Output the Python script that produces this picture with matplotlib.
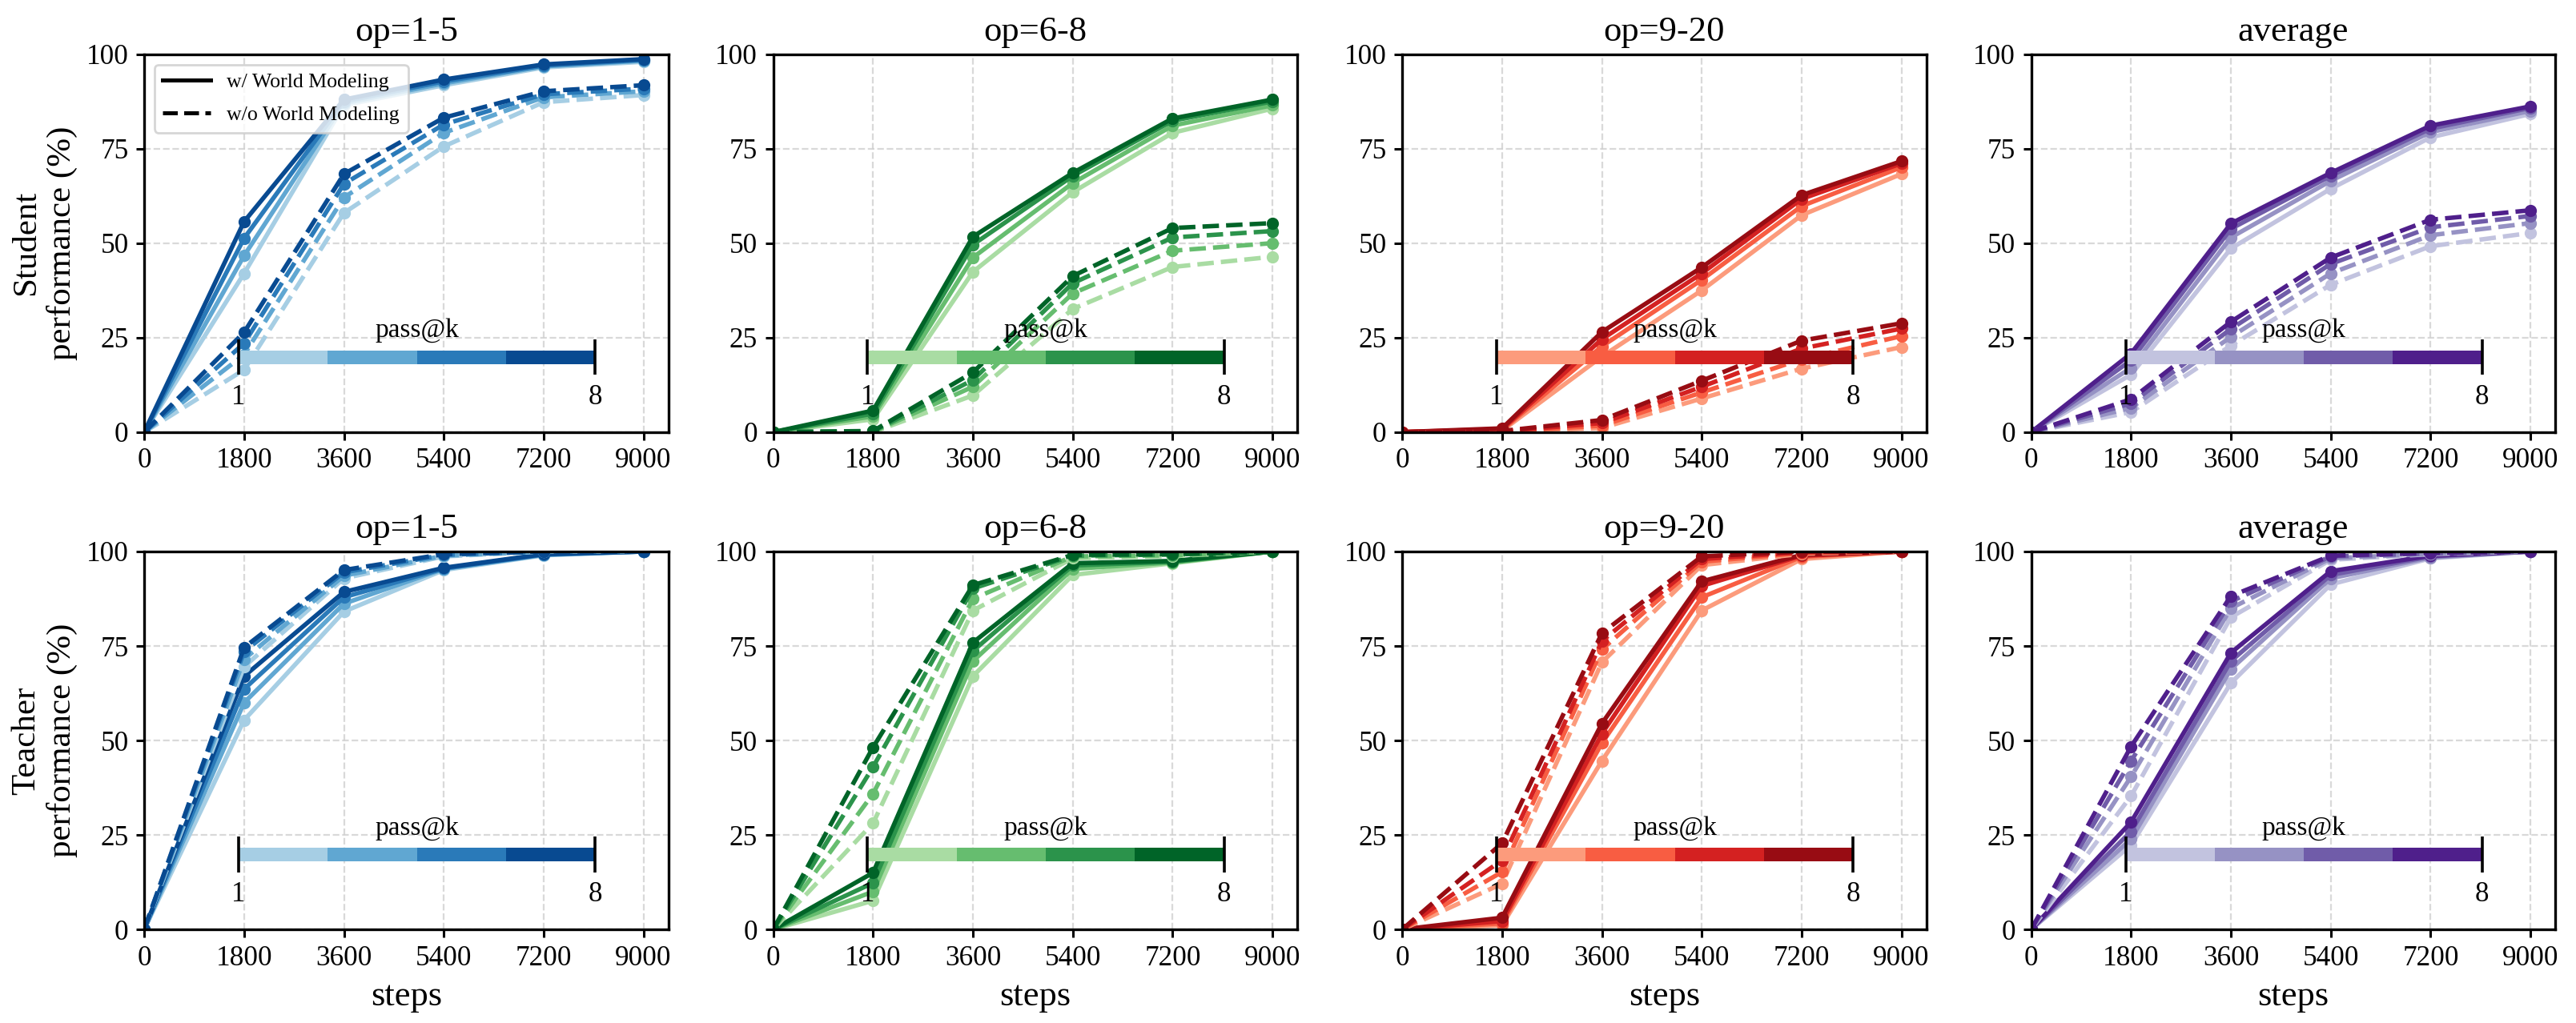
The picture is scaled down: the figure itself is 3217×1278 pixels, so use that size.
"""
pass@k curves of student / teacher, with and without world modeling
"""
import numpy as np
import matplotlib
matplotlib.use("Agg")
import matplotlib.pyplot as plt
from matplotlib.colors import ListedColormap, BoundaryNorm
from matplotlib.cm import ScalarMappable
from matplotlib.lines import Line2D

plt.rcParams['font.family'] = ['Liberation Serif', 'DejaVu Serif']
plt.rcParams['mathtext.fontset'] = 'stix'

# x axis
steps = [0, 1800, 3600, 5400, 7200, 9000]
k_values = [1, 2, 4, 8]
titles = ['op=1-5', 'op=6-8', 'op=9-20', 'average']
row_labels = ['Student\nperformance (%)', 'Teacher\nperformance (%)']
cmaps = ['Blues', 'Greens', 'Reds', 'Purples']

# each list: one row per k (1, 2, 4, 8), values at the 6 steps
# ---- student, w/ world modeling
stu_op1_5_w = [[0, 42.0, 86.5, 91.8, 96.5, 98.0],
               [0, 46.7, 87.0, 92.3, 96.8, 98.3],
               [0, 51.3, 87.5, 92.8, 97.0, 98.5],
               [0, 55.7, 88.0, 93.3, 97.3, 98.7]]
stu_op6_8_w = [[0, 3.4, 42.4, 63.5, 79.2, 85.6],
               [0, 4.2, 46.2, 65.9, 81.1, 86.5],
               [0, 4.9, 49.6, 67.8, 82.4, 87.5],
               [0, 5.7, 51.7, 68.6, 83.0, 88.0]]
stu_op9_20_w = [[0, 0.4, 20.0, 37.5, 57.4, 68.3],
                [0, 0.6, 22.7, 40.3, 59.8, 70.1],
                [0, 0.8, 24.6, 42.0, 61.7, 71.1],
                [0, 1.0, 26.5, 43.6, 62.7, 71.7]]
stu_avg_w = [[0, 15.2, 48.6, 64.4, 78.0, 84.2],
             [0, 17.0, 51.5, 66.5, 79.4, 85.0],
             [0, 19.0, 53.8, 67.8, 80.3, 85.8],
             [0, 20.8, 55.2, 68.6, 81.1, 86.2]]
# ---- student, w/o world modeling
stu_op1_5_wo = [[0, 16.5, 58.0, 75.6, 87.3, 89.2],
                [0, 20.5, 62.1, 79.2, 88.6, 90.2],
                [0, 23.5, 65.7, 81.4, 89.4, 90.9],
                [0, 26.4, 68.3, 83.2, 90.2, 91.8]]
stu_op6_8_wo = [[0, 0.0, 9.7, 32.6, 43.7, 46.4],
                [0, 0.1, 12.0, 36.7, 48.0, 50.0],
                [0, 0.2, 13.8, 39.4, 51.5, 53.2],
                [0, 0.3, 15.8, 41.3, 54.0, 55.3]]
stu_op9_20_wo = [[0, 0.0, 1.1, 8.9, 16.8, 22.5],
                 [0, 0.1, 1.7, 10.5, 19.3, 25.4],
                 [0, 0.2, 2.4, 12.0, 22.1, 27.4],
                 [0, 0.3, 3.2, 13.6, 24.2, 28.8]]
stu_avg_wo = [[0, 5.3, 22.9, 39.0, 49.2, 52.7],
              [0, 6.4, 25.2, 42.0, 52.1, 55.3],
              [0, 7.6, 27.3, 44.5, 54.2, 57.2],
              [0, 8.7, 29.2, 46.2, 56.2, 58.7]]
# ---- teacher, w/ world modeling
tea_op1_5_w = [[0, 55.4, 84.1, 95.1, 99.0, 100],
               [0, 60.0, 86.2, 95.4, 99.1, 100],
               [0, 63.6, 87.9, 95.5, 99.2, 100],
               [0, 67.0, 89.3, 95.7, 99.3, 100]]
tea_op6_8_w = [[0, 7.6, 67.0, 93.8, 96.9, 100],
               [0, 10.0, 71.0, 95.4, 97.1, 100],
               [0, 12.3, 73.7, 96.3, 97.3, 100],
               [0, 15.0, 75.9, 96.9, 97.5, 100]]
tea_op9_20_w = [[0, 1.1, 44.6, 84.4, 98.0, 100],
                [0, 1.6, 49.3, 87.9, 98.6, 100],
                [0, 2.2, 51.8, 90.9, 98.9, 100],
                [0, 3.1, 54.5, 92.1, 99.1, 100]]
tea_avg_w = [[0, 22.3, 65.2, 91.3, 98.2, 100],
             [0, 23.9, 68.9, 92.9, 98.4, 100],
             [0, 25.9, 71.0, 93.8, 98.7, 100],
             [0, 28.4, 73.2, 94.8, 98.9, 100]]
# ---- teacher, w/o world modeling
tea_op1_5_wo = [[0, 69.5, 92.9, 98.7, 100, 100],
                [0, 71.5, 93.6, 98.9, 100, 100],
                [0, 73.5, 94.5, 99.1, 100, 100],
                [0, 74.6, 95.1, 99.3, 100, 100]]
tea_op6_8_wo = [[0, 28.1, 84.4, 98.2, 98.8, 100],
                [0, 35.9, 87.5, 98.7, 99.0, 100],
                [0, 43.0, 90.2, 98.9, 99.2, 100],
                [0, 48.2, 91.1, 99.1, 99.3, 100]]
tea_op9_20_wo = [[0, 12.1, 70.7, 96.4, 99.4, 100],
                 [0, 15.2, 74.1, 97.3, 99.6, 100],
                 [0, 18.3, 76.3, 98.0, 99.8, 100],
                 [0, 22.8, 78.4, 98.7, 100, 100]]
tea_avg_wo = [[0, 35.3, 82.6, 97.8, 99.3, 100],
              [0, 40.4, 85.0, 98.2, 99.4, 100],
              [0, 44.6, 86.8, 98.7, 99.5, 100],
              [0, 48.4, 88.2, 98.9, 99.6, 100]]

with_wm = [[stu_op1_5_w, stu_op6_8_w, stu_op9_20_w, stu_avg_w],
           [tea_op1_5_w, tea_op6_8_w, tea_op9_20_w, tea_avg_w]]
without_wm = [[stu_op1_5_wo, stu_op6_8_wo, stu_op9_20_wo, stu_avg_wo],
              [tea_op1_5_wo, tea_op6_8_wo, tea_op9_20_wo, tea_avg_wo]]

# figure
fig, axes = plt.subplots(2, 4, figsize=(16.085, 6.39), dpi=200)
plt.subplots_adjust(left=0.056, right=0.992, top=0.947, bottom=0.0915,
                    wspace=0.2, hspace=0.316)

for r in range(2):
    for c in range(4):
        ax = axes[r, c]
        cols = plt.get_cmap(cmaps[c])(np.linspace(0.35, 0.9, 4))

        for i in range(len(k_values)):
            ax.plot(steps, with_wm[r][c][i], '-', marker='o', color=cols[i],
                    lw=2, ms=4.5)
        for i in range(len(k_values)):
            ax.plot(steps, without_wm[r][c][i], '--', marker='o', color=cols[i],
                    lw=2, ms=4.5)

        ax.set_xlim(0, 9450)
        ax.set_ylim(0, 100)
        ax.set_xticks(steps)
        ax.set_yticks([0, 25, 50, 75, 100])
        ax.tick_params(labelsize=12.7, width=1.1)
        for sp in ax.spines.values():
            sp.set_linewidth(1.2)
        ax.grid(True, linestyle='--', color='#d0d0d0', lw=0.8, alpha=0.8)
        ax.set_axisbelow(True)
        ax.set_title(titles[c], fontsize=16)
        if c == 0:
            ax.set_ylabel(row_labels[r], fontsize=15.5)
        if r == 1:
            ax.set_xlabel('steps', fontsize=16)

        # pass@k colour bar
        cax = ax.inset_axes([0.18, 0.18, 0.68, 0.036])
        bounds = np.linspace(1, 8, 5)
        sm = ScalarMappable(norm=BoundaryNorm(bounds, 4), cmap=ListedColormap(cols))
        cb = fig.colorbar(sm, cax=cax, orientation='horizontal', ticks=[1, 8])
        cb.outline.set_visible(False)
        cb.minorticks_off()
        cax.tick_params(axis='x', which='both', length=0, pad=9, labelsize=12.5)
        cax.vlines([1, 8], -0.8, 1.8, color='k', lw=1.3, clip_on=False)
        cax.set_title('pass@k', fontsize=12, pad=6)

# legend
handles = [Line2D([0], [0], color='k', lw=1.8, ls='-'),
           Line2D([0], [0], color='k', lw=1.8, ls='--')]
axes[0, 0].legend(handles, ['w/ World Modeling', 'w/o World Modeling'],
                  loc='upper left', fontsize=9.3, handlelength=2.3,
                  labelspacing=0.7)

plt.savefig('out.png')
